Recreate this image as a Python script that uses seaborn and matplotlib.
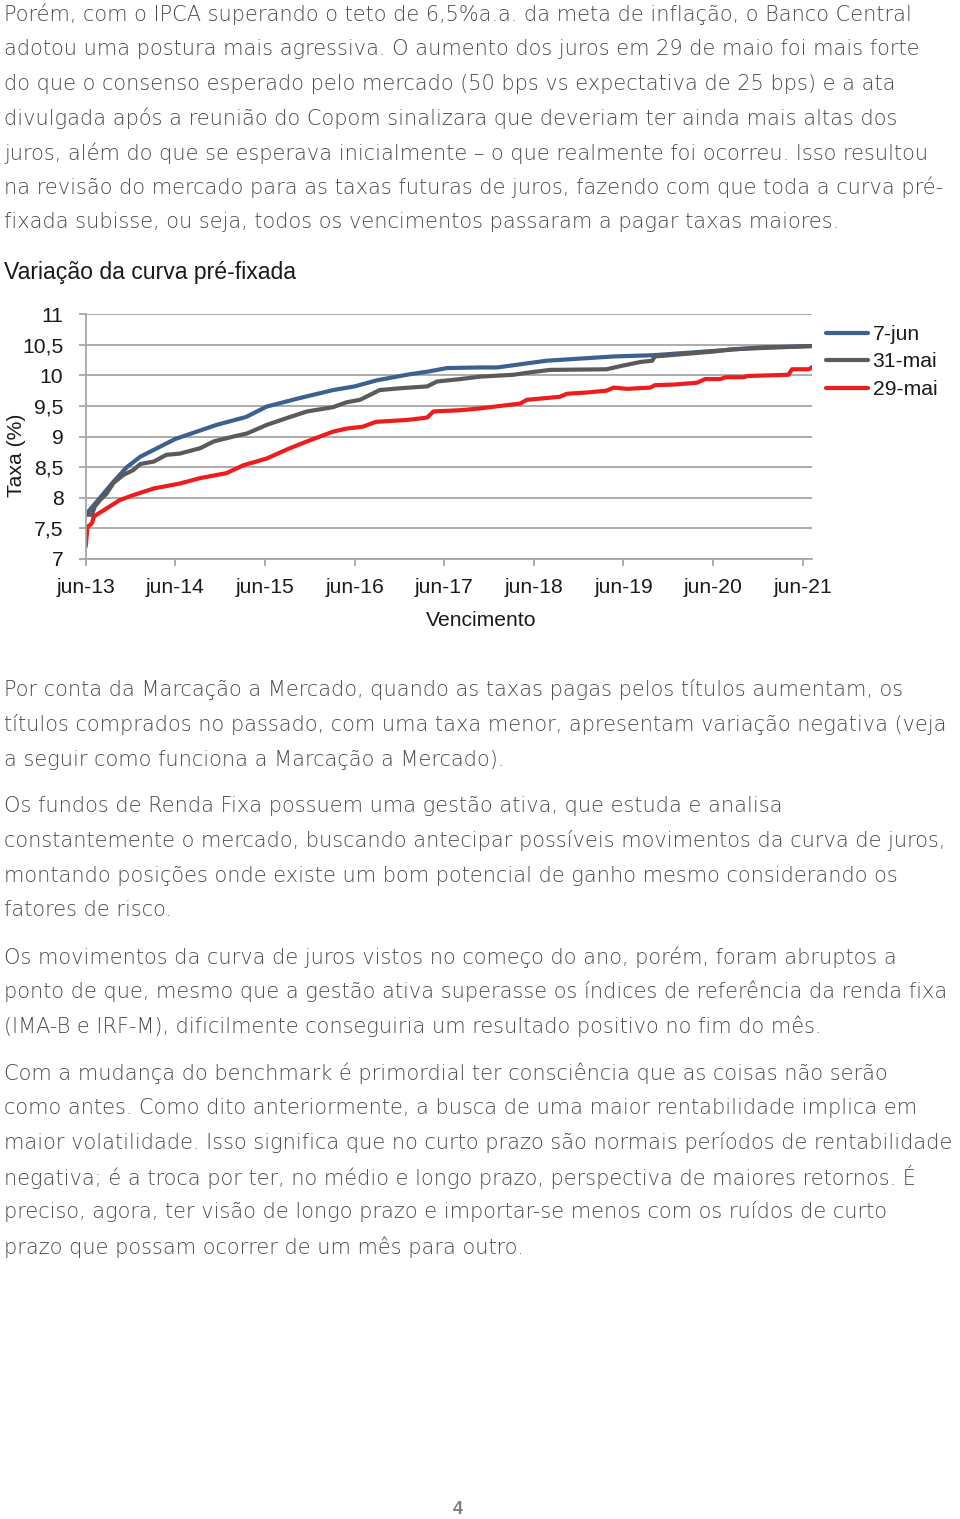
import numpy as np
import pandas as pd
import matplotlib
matplotlib.use("Agg")
import matplotlib.pyplot as plt
import seaborn as sns

# --- text of the page ---
para1 = ["Porém, com o IPCA superando o teto de 6,5%a.a. da meta de inflação, o Banco Central",
         "adotou uma postura mais agressiva. O aumento dos juros em 29 de maio foi mais forte",
         "do que o consenso esperado pelo mercado (50 bps vs expectativa de 25 bps) e a ata",
         "divulgada após a reunião do Copom sinalizara que deveriam ter ainda mais altas dos",
         "juros, além do que se esperava inicialmente – o que realmente foi ocorreu. Isso resultou",
         "na revisão do mercado para as taxas futuras de juros, fazendo com que toda a curva pré-",
         "fixada subisse, ou seja, todos os vencimentos passaram a pagar taxas maiores."]
para2 = ["Por conta da Marcação a Mercado, quando as taxas pagas pelos títulos aumentam, os",
         "títulos comprados no passado, com uma taxa menor, apresentam variação negativa (veja",
         "a seguir como funciona a Marcação a Mercado)."]
para3 = ["Os fundos de Renda Fixa possuem uma gestão ativa, que estuda e analisa",
         "constantemente o mercado, buscando antecipar possíveis movimentos da curva de juros,",
         "montando posições onde existe um bom potencial de ganho mesmo considerando os",
         "fatores de risco."]
para4 = ["Os movimentos da curva de juros vistos no começo do ano, porém, foram abruptos a",
         "ponto de que, mesmo que a gestão ativa superasse os índices de referência da renda fixa",
         "(IMA-B e IRF-M), dificilmente conseguiria um resultado positivo no fim do mês."]
para5 = ["Com a mudança do benchmark é primordial ter consciência que as coisas não serão",
         "como antes. Como dito anteriormente, a busca de uma maior rentabilidade implica em",
         "maior volatilidade. Isso significa que no curto prazo são normais períodos de rentabilidade",
         "negativa; é a troca por ter, no médio e longo prazo, perspectiva de maiores retornos. É",
         "preciso, agora, ter visão de longo prazo e importar-se menos com os ruídos de curto",
         "prazo que possam ocorrer de um mês para outro."]

chart_title = "Variação da curva pré-fixada"
x_ticklabels = ["jun-13", "jun-14", "jun-15", "jun-16", "jun-17", "jun-18", "jun-19", "jun-20", "jun-21"]
y_ticks = [7, 7.5, 8, 8.5, 9, 9.5, 10, 10.5, 11]

# --- curve data (x = years after jun-13) ---
x_7jun = [0.0, 0.15, 0.31, 0.46, 0.61, 1.0, 1.46, 1.79, 2.02, 2.39, 2.76, 3.0, 3.25, 3.62, 3.81,
          4.03, 4.40, 4.59, 5.14, 5.89, 6.33, 7.0, 7.56, 8.10]
y_7jun = [7.72, 7.98, 8.26, 8.5, 8.67, 8.96, 9.19, 9.32, 9.49, 9.63, 9.76, 9.82, 9.92, 10.02, 10.06,
          10.12, 10.13, 10.13, 10.24, 10.31, 10.33, 10.40, 10.46, 10.48]

x_31mai = [0.0, 0.07, 0.10, 0.16, 0.23, 0.31, 0.42, 0.53, 0.61, 0.76, 0.90, 1.05, 1.28, 1.43, 1.65,
           1.80, 2.02, 2.24, 2.47, 2.76, 2.91, 3.06, 3.17, 3.28, 3.51, 3.81, 3.92, 4.18, 4.40, 4.77,
           4.96, 5.18, 5.81, 5.96, 6.19, 6.32, 6.35, 7.0, 7.23, 8.10]
y_31mai = [7.72, 7.72, 7.85, 7.96, 8.06, 8.24, 8.37, 8.45, 8.55, 8.59, 8.70, 8.72, 8.81, 8.92, 9.0,
           9.05, 9.19, 9.30, 9.41, 9.48, 9.56, 9.60, 9.68, 9.76, 9.79, 9.82, 9.90, 9.94, 9.98, 10.01,
           10.05, 10.09, 10.10, 10.15, 10.22, 10.24, 10.31, 10.39, 10.43, 10.48]

x_29mai = [0.0, 0.02, 0.07, 0.09, 0.23, 0.38, 0.53, 0.76, 1.05, 1.28, 1.57, 1.76, 2.02, 2.28, 2.47,
           2.76, 2.91, 3.09, 3.24, 3.58, 3.81, 3.88, 4.18, 4.40, 4.85, 4.92, 5.29, 5.37, 5.59, 5.81,
           5.89, 6.04, 6.30, 6.35, 6.56, 6.82, 6.91, 7.08, 7.14, 7.34, 7.38, 7.84, 7.88, 8.07, 8.11]
y_29mai = [7.20, 7.52, 7.58, 7.69, 7.82, 7.96, 8.04, 8.15, 8.23, 8.32, 8.40, 8.53, 8.64, 8.81, 8.92,
           9.08, 9.13, 9.16, 9.24, 9.27, 9.31, 9.41, 9.43, 9.46, 9.54, 9.60, 9.65, 9.70, 9.72, 9.75,
           9.80, 9.78, 9.80, 9.84, 9.85, 9.88, 9.94, 9.94, 9.97, 9.97, 9.99, 10.01, 10.10, 10.10, 10.14]

series = ["7-jun", "31-mai", "29-mai"]
colors = ["#3A6190", "#5A5A5A", "#EE1C1C"]

df = pd.concat([
    pd.DataFrame({"venc": x_7jun, "taxa": y_7jun, "serie": "7-jun"}),
    pd.DataFrame({"venc": x_31mai, "taxa": y_31mai, "serie": "31-mai"}),
    pd.DataFrame({"venc": x_29mai, "taxa": y_29mai, "serie": "29-mai"}),
], ignore_index=True)

sns.set_theme(style="white")
body_font = ["DejaVu Sans"]
chart_font = ["Liberation Sans", "DejaVu Sans"]
plt.rcParams["font.family"] = chart_font

W, H = 960, 1519
fig = plt.figure(figsize=(W / 100, H / 100), dpi=100)
rend = fig.canvas.get_renderer()

def px(x, y):
    return x / W, 1 - y / H

def fit_size(text, target, family, weight="normal"):
    # font size that makes `text` about `target` pixels wide
    t = fig.text(0, 0, text, fontsize=14, family=family, fontweight=weight)
    w = t.get_window_extent(renderer=rend).width
    t.remove()
    return 14 * target / w

body_w = 250
all_lines = para1 + para2 + para3 + para4 + para5
body_size = fit_size(para1[0], 932, body_font, body_w)
body_size = min([body_size] + [fit_size(l, 954, body_font, body_w) for l in all_lines])
chart_size = fit_size("Vencimento", 111, chart_font)
title_size = fit_size(chart_title, 296, chart_font)

body_col = "#4a4a4a"
def put_para(lines, y0):
    for i, line in enumerate(lines):
        fig.text(*px(4, y0 + i * 34.75), line, fontsize=body_size, color=body_col, family=body_font,
                 fontweight=body_w, va="center", ha="left")

put_para(para1, 14)
put_para(para2, 690)
put_para(para3, 806)
put_para(para4, 957)
put_para(para5, 1073)

fig.text(*px(4, 272), chart_title, fontsize=title_size, color="#1a1a1a", va="center", ha="left")
fig.text(*px(458, 1509), "4", fontsize=13, color="#808080", fontweight="bold", va="center", ha="center")

# chart area
left, right, top, bottom = 85.7, 811.7, 314.3, 558.7
ax = fig.add_axes([left / W, 1 - bottom / H, (right - left) / W, (bottom - top) / H])

sns.lineplot(data=df, x="venc", y="taxa", hue="serie", hue_order=series, palette=colors,
             sort=False, estimator=None, linewidth=3, ax=ax)

grid_col = "#a6a6a6"
ax.set_ylim(7, 11)
ax.set_xlim(0, 8.1)
ax.set_yticks(y_ticks)
ax.set_yticklabels([f"{v:g}".replace(".", ",") for v in y_ticks])
ax.set_xticks(range(len(x_ticklabels)))
ax.set_xticklabels(x_ticklabels)
ax.yaxis.grid(True, color=grid_col, linewidth=1.3)
ax.set_axisbelow(True)
for s in ["top", "right"]:
    ax.spines[s].set_visible(False)
for s in ["left", "bottom"]:
    ax.spines[s].set_color(grid_col)
    ax.spines[s].set_linewidth(1.3)
ax.tick_params(axis="both", which="major", direction="out", length=5, width=1.3,
               color=grid_col, labelsize=chart_size, labelcolor="#1a1a1a", left=True, bottom=True)
ax.tick_params(axis="y", pad=11)
ax.tick_params(axis="x", pad=9)
ax.set_xlabel("")
ax.set_ylabel("")

fig.text(*px(16, 455), "Taxa (%)", rotation=90, fontsize=chart_size, color="#1a1a1a", va="center", ha="center")
fig.text(*px(481, 620), "Vencimento", fontsize=chart_size, color="#1a1a1a", va="center", ha="center")

leg = ax.legend(loc="upper left", bbox_to_anchor=px(826, 325), bbox_transform=fig.transFigure,
                frameon=False, fontsize=chart_size, handlelength=2.0, handletextpad=0.2,
                labelspacing=0.4, borderpad=0, borderaxespad=0)
for t in leg.get_texts():
    t.set_color("#1a1a1a")
for l in leg.get_lines():
    l.set_linewidth(3)

fig.savefig("out.png", dpi=100)
